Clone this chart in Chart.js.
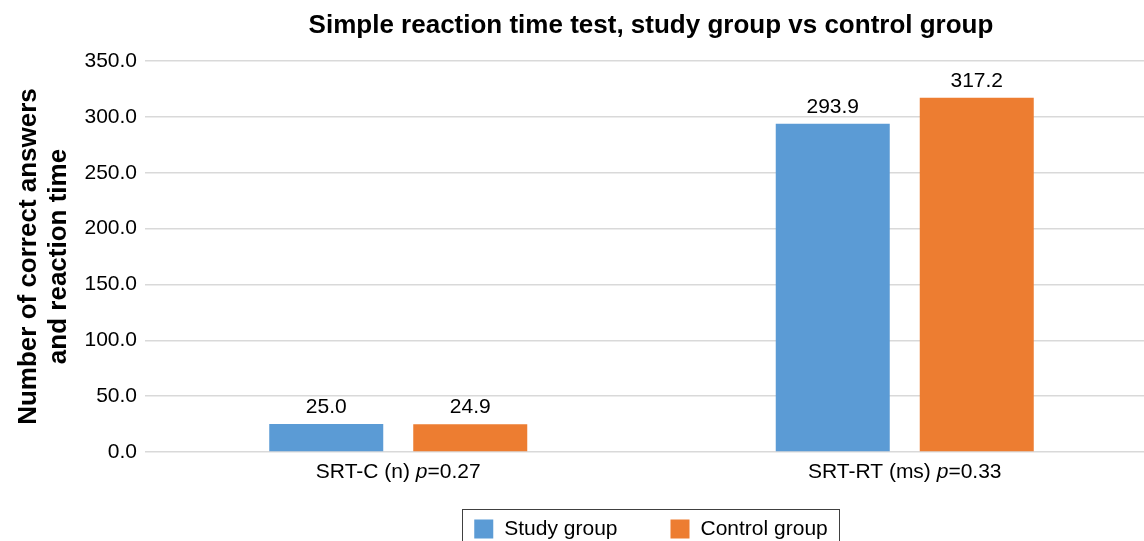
<!DOCTYPE html>
<html>
<head>
<meta charset="utf-8">
<script src="https://cdn.jsdelivr.net/npm/chart.js@4"></script>
<style>
  html, body { margin: 0; padding: 0; background: #fff; overflow: hidden; }
  #chart { display: block; }
</style>
</head>
<body>
<canvas id="chart" width="1302" height="541"></canvas>
<script>
const categories = ["SRT-C (n)", "SRT-RT (ms)"];
const pValues = ["0.27", "0.33"];
const studyGroup = [25.0, 293.9];
const controlGroup = [24.9, 317.2];
const seriesNames = ["Study group", "Control group"];
const seriesColors = ["#5b9bd5", "#ed7d31"];
const yTicks = [0, 50, 100, 150, 200, 250, 300, 350];

const FONT = "'Liberation Sans', Arial, sans-serif";
const TITLE = "Simple reaction time test, study group vs control group";

// title, value labels, x labels with italic p, boxed legend
const decorations = {
    id: "decorations",
    afterDraw(chart) {
        const ctx = chart.ctx;
        const area = chart.chartArea;
        const mid = chart.width / 2;
        ctx.save();
        ctx.fillStyle = "#000";

        // title
        ctx.font = "bold 26px " + FONT;
        ctx.textAlign = "center";
        ctx.textBaseline = "middle";
        ctx.fillText(TITLE, mid, 26);

        // value labels
        ctx.font = "21px " + FONT;
        ctx.textBaseline = "bottom";
        chart.data.datasets.forEach((ds, i) => {
            chart.getDatasetMeta(i).data.forEach((bar, j) => {
                ctx.fillText(ds.data[j].toFixed(1), bar.x, bar.y - 6);
            });
        });

        // category labels
        const xScale = chart.scales.x;
        ctx.textAlign = "left";
        ctx.textBaseline = "middle";
        categories.forEach((cat, i) => {
            const parts = [
                [cat + " ", "21px " + FONT],
                ["p", "italic 21px " + FONT],
                ["=" + pValues[i], "21px " + FONT]
            ];
            let total = 0;
            parts.forEach(p => { ctx.font = p[1]; total += ctx.measureText(p[0]).width; });
            let x = xScale.getPixelForValue(i) - total / 2;
            parts.forEach(p => {
                ctx.font = p[1];
                ctx.fillText(p[0], x, area.bottom + 20);
                x += ctx.measureText(p[0]).width;
            });
        });

        // legend
        ctx.font = "21px " + FONT;
        const box = 19, gapText = 11, gapItem = 53, pad = 12;
        const w0 = ctx.measureText(seriesNames[0]).width;
        const w1 = ctx.measureText(seriesNames[1]).width;
        const total = box + gapText + w0 + gapItem + box + gapText + w1;
        let lx = mid - total / 2;
        const ly = 529;
        ctx.strokeStyle = "#404040";
        ctx.lineWidth = 1;
        ctx.strokeRect(Math.round(lx - pad) + 0.5, 509.5, Math.round(total + pad * 2), 60);
        [w0, w1].forEach((w, i) => {
            ctx.fillStyle = seriesColors[i];
            ctx.fillRect(lx, ly - box / 2, box, box);
            ctx.fillStyle = "#000";
            ctx.fillText(seriesNames[i], lx + box + gapText, ly);
            lx += box + gapText + w + gapItem;
        });
        ctx.restore();
    }
};

new Chart(document.getElementById("chart"), {
    type: "bar",
    data: {
        labels: categories,
        datasets: [
            { label: seriesNames[0], data: studyGroup, backgroundColor: seriesColors[0] },
            { label: seriesNames[1], data: controlGroup, backgroundColor: seriesColors[1] }
        ]
    },
    options: {
        responsive: false,
        animation: false,
        devicePixelRatio: 1,
        categoryPercentage: 0.5686,
        barPercentage: 0.7917,
        layout: { padding: { top: 61, right: 144, bottom: 81, left: 0 } },
        plugins: {
            legend: { display: false },
            title: { display: false },
            tooltip: { enabled: false }
        },
        scales: {
            x: {
                grid: { display: false },
                border: { display: false },
                ticks: { display: false }
            },
            y: {
                min: 0,
                max: 350,
                afterFit(scale) { scale.width = 145; },
                afterBuildTicks(scale) { scale.ticks = yTicks.map(v => ({ value: v })); },
                grid: { color: "#d9d9d9", lineWidth: 1.5, tickLength: 0 },
                border: { display: false },
                ticks: {
                    padding: 8,
                    color: "#000",
                    font: { family: FONT, size: 21 },
                    callback: v => v.toFixed(1)
                },
                title: {
                    display: true,
                    text: ["Number of correct answers", "and reaction time"],
                    color: "#000",
                    font: { family: FONT, size: 26, weight: "bold", lineHeight: 1.154 },
                    padding: { top: 14, bottom: 0 }
                }
            }
        }
    },
    plugins: [decorations]
});
</script>
</body>
</html>
